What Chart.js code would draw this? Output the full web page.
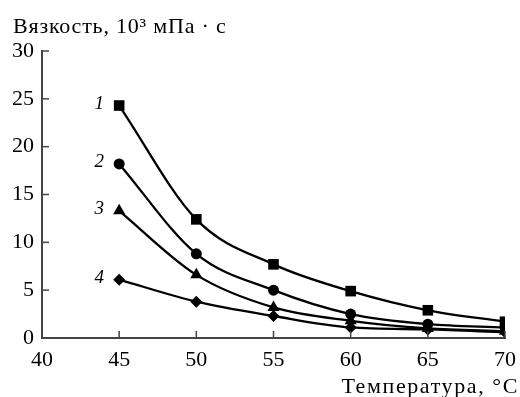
<!DOCTYPE html>
<html>
<head>
<meta charset="utf-8">
<script src="https://cdn.jsdelivr.net/npm/chart.js@4/dist/chart.umd.min.js"></script>
<style>
  body { margin: 0; background: #fff; }
</style>
</head>
<body>
<canvas id="myChart" width="520" height="397"></canvas>
<script>
const temps = [45, 50, 55, 60, 65, 70];
const curve1 = [24.3, 12.4, 7.7, 4.9, 2.9, 1.7];
const curve2 = [18.2, 8.8, 5.0, 2.5, 1.45, 1.1];
const curve3 = [13.3, 6.6, 3.2, 1.8, 1.0, 0.7];
const curve4 = [6.1, 3.8, 2.3, 1.1, 0.9, 0.6];
const curveNames = ["1", "2", "3", "4"];
const markers = ["rect", "circle", "triangle", "rectRot"];
const markerSizes = [7.5, 5.5, 7, 6];

const yTitle = "Вязкость, 10³ мПа · с";
const xTitle = "Температура, °C";

const serif = "'Liberation Serif', 'DejaVu Serif', serif";
const axisColor = "#444";

const toPoints = (vals) => temps.map((t, i) => ({ x: t, y: vals[i] }));

const datasets = [curve1, curve2, curve3, curve4].map((vals, i) => ({
  label: curveNames[i],
  data: toPoints(vals),
  borderColor: "#000",
  backgroundColor: "#000",
  borderWidth: 2.3,
  pointStyle: markers[i],
  pointRadius: markerSizes[i],
  pointBorderWidth: 0,
  cubicInterpolationMode: "monotone",
  tension: 0.4,
  fill: false
}));

// inward ticks, axis titles and curve numbers
const extras = {
  id: "extras",
  afterDraw(chart) {
    const c = chart.ctx;
    const xs = chart.scales.x;
    const ys = chart.scales.y;
    const area = chart.chartArea;
    c.save();
    c.strokeStyle = axisColor;
    c.lineWidth = 1.5;
    xs.ticks.forEach(t => {
      const px = xs.getPixelForValue(t.value);
      c.beginPath();
      c.moveTo(px, area.bottom);
      c.lineTo(px, area.bottom - 7);
      c.stroke();
    });
    ys.ticks.forEach(t => {
      const py = ys.getPixelForValue(t.value);
      c.beginPath();
      c.moveTo(area.left, py);
      c.lineTo(area.left + 7, py);
      c.stroke();
    });

    c.fillStyle = "#000";
    c.font = "22px " + serif;
    c.textBaseline = "alphabetic";
    c.textAlign = "left";
    c.letterSpacing = "0.8px";
    c.fillText(yTitle, 13, 33);
    c.textAlign = "right";
    c.letterSpacing = "1.6px";
    c.fillText(xTitle, 519, 393);

    c.letterSpacing = "0px";
    c.font = "italic 19px " + serif;
    c.textAlign = "center";
    c.textBaseline = "middle";
    chart.data.datasets.forEach((ds, i) => {
      const p = chart.getDatasetMeta(i).data[0];
      c.fillText(ds.label, p.x - 20, p.y - 2);
    });
    c.restore();
  }
};

const ctx = document.getElementById("myChart").getContext("2d");
const myChart = new Chart(ctx, {
  type: "line",
  data: { datasets: datasets },
  options: {
    responsive: false,
    animation: false,
    layout: { padding: { top: 51, left: 0, right: 15, bottom: 0 } },
    plugins: {
      legend: { display: false },
      tooltip: { enabled: false }
    },
    scales: {
      x: {
        type: "linear",
        min: 40,
        max: 70,
        ticks: { stepSize: 5, color: "#000", padding: 9, font: { family: serif, size: 22 } },
        grid: { display: false, drawTicks: false },
        border: { color: axisColor, width: 2 },
        afterFit(scale) {
          scale.height = 59;
          scale.paddingLeft = 0;
          scale.paddingRight = 0;
        }
      },
      y: {
        min: 0,
        max: 30,
        ticks: { stepSize: 5, color: "#000", padding: 8, font: { family: serif, size: 22 } },
        grid: { display: false, drawTicks: false },
        border: { color: axisColor, width: 2 },
        afterFit(scale) {
          scale.width = 42;
          scale.paddingTop = 0;
          scale.paddingBottom = 0;
        }
      }
    }
  },
  plugins: [extras]
});
</script>
</body>
</html>
